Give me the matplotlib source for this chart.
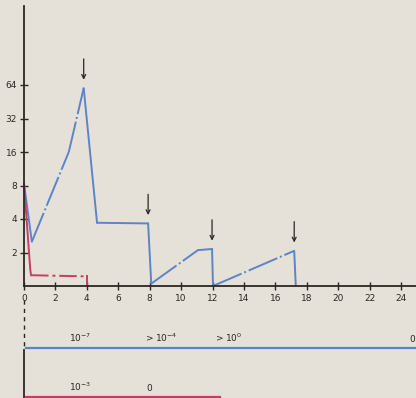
import matplotlib
matplotlib.use("Agg")
import matplotlib.pyplot as plt
import numpy as np

# ---- data ---------------------------------------------------------------
blue_x = [0.0, 0.5, 2.85, 3.8, 4.65, 7.9, 8.1, 11.07, 11.97, 12.03, 17.2, 17.3]
blue_y = [8.3, 2.5, 16.0, 60.0, 3.7, 3.65, 1.05, 2.1, 2.15, 1.0, 2.07, 1.0]

red_x = [0.0, 0.4, 0.45, 4.0, 4.0]
red_y = [8.3, 1.4, 1.25, 1.22, 1.0]

arrow_x = [3.8, 7.9, 11.97, 17.2]
arrow_y = [60.0, 3.65, 2.15, 2.07]

x_ticks = [0, 2, 4, 6, 8, 10, 12, 14, 16, 18, 20, 22, 24]
y_ticks = [2, 4, 8, 16, 32, 64]

blue_notes = ["$10^{-7}$", "$>10^{-4}$", "$>10^{0}$", "0"]
blue_note_x = [3.6, 8.7, 13.0, 24.7]
red_notes = ["$10^{-3}$", "0"]
red_note_x = [3.6, 8.0]

# ---- style --------------------------------------------------------------
BG = "#e5e1d9"
BLUE = "#5a85c6"
RED = "#c83d63"
INK = "#2b2622"

W, H = 416, 398
fig = plt.figure(figsize=(W / 100, H / 100), dpi=100, facecolor=BG)

# main semilog (base 2) axes
ax = fig.add_axes([24 / W, (H - 286) / H, (W - 24) / W, 280 / H])
ax.set_facecolor(BG)
ax.set_yscale("log", base=2)
ax.set_xlim(0, 392 / 15.71)
ax.set_ylim(1, 2 ** (280 / 33.5))
for s in ("top", "right"):
    ax.spines[s].set_visible(False)
for s in ("left", "bottom"):
    ax.spines[s].set_color(INK)
    ax.spines[s].set_linewidth(1.3)

ax.set_xticks(x_ticks)
ax.set_xticklabels([str(v) for v in x_ticks])
ax.set_yticks(y_ticks)
ax.set_yticklabels([str(v) for v in y_ticks])
ax.yaxis.set_minor_locator(matplotlib.ticker.NullLocator())
ax.tick_params(axis="both", direction="inout", length=6, width=1.0,
               colors=INK, labelsize=6.5, pad=2)
ax.tick_params(axis="x", pad=3)

dash = (0, (16, 1.5, 1, 1.5))

# blue curve, rising parts drawn with broken strokes
for i in range(len(blue_x) - 1):
    xs = blue_x[i:i + 2]
    ys = blue_y[i:i + 2]
    rising = ys[1] > ys[0] * 1.05
    ax.plot(xs, ys, color=BLUE, lw=1.4,
            linestyle=dash if rising else "-",
            solid_capstyle="round", clip_on=False)

# red curve
ax.plot(red_x[:3], red_y[:3], color=RED, lw=1.4, clip_on=False)
ax.plot(red_x[2:4], red_y[2:4], color=RED, lw=1.4,
        linestyle=(0, (9, 2, 1.5, 2)), clip_on=False)
ax.plot(red_x[3:], red_y[3:], color=RED, lw=1.4, clip_on=False)

# arrows marking the peaks
for xa, ya in zip(arrow_x, arrow_y):
    ax.annotate("", xy=(xa, ya), xytext=(0, 21), textcoords="offset points",
                arrowprops=dict(arrowstyle="->", color=INK, lw=0.9,
                                shrinkA=0, shrinkB=6, mutation_scale=7))

# lower strip with the level annotations
bx = fig.add_axes([24 / W, 0, (W - 24) / W, 108 / H])
bx.set_axis_off()
bx.set_xlim(ax.get_xlim())
bx.set_ylim(108, 0)  # pixel rows below y=290, downward

bx.plot([0, 0], [10, 56], color=INK, lw=1.0, linestyle=(0, (3, 3)),
        clip_on=False)
bx.plot([0, 0], [60, 108], color=INK, lw=1.3, clip_on=False)

bx.plot([0.1, 25.5], [57.5, 57.5], color=BLUE, lw=1.6, clip_on=False)
bx.plot([0.15, 12.5], [107.3, 107.3], color=RED, lw=1.6, clip_on=False)

for t, xv in zip(blue_notes, blue_note_x):
    bx.text(xv, 52, t, fontsize=6.5, color=INK, ha="center", va="baseline")
for t, xv in zip(red_notes, red_note_x):
    bx.text(xv, 101, t, fontsize=6.5, color=INK, ha="center", va="baseline")

fig.savefig("out.png", dpi=100, facecolor=BG)
